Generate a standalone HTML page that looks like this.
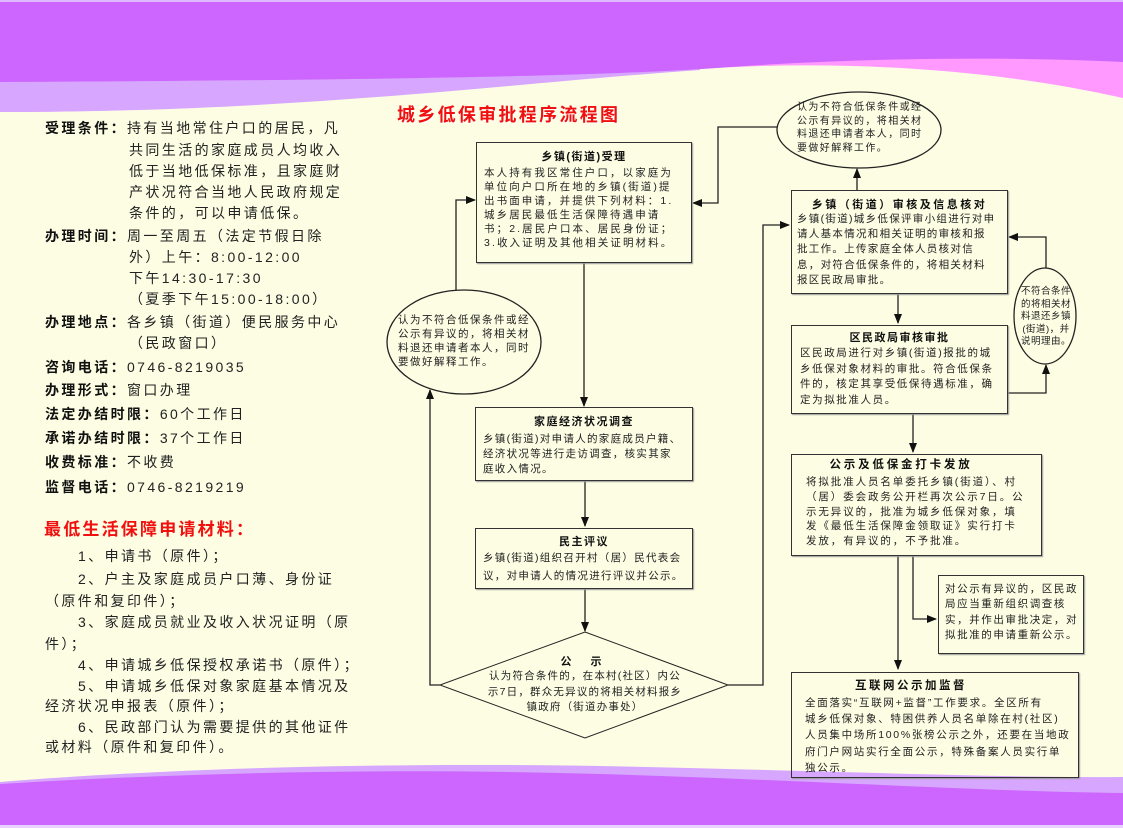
<!DOCTYPE html>
<html><head><meta charset="utf-8">
<style>
*{margin:0;padding:0;box-sizing:border-box}
body{width:1123px;height:828px;overflow:hidden;position:relative;background:#fdfde4;font-family:"Liberation Sans","Noto Sans CJK SC",sans-serif;color:#222}
svg.bg{position:absolute;left:0;top:0}
.l{position:absolute;white-space:nowrap;font-size:14px;letter-spacing:2.4px;line-height:20px;color:#222}
.l b{font-weight:bold;color:#111}
.box{position:absolute;border:1.5px solid #333;box-shadow:1px 1px 1px #999}
.tt{position:absolute;white-space:nowrap;font-weight:bold;font-size:11px;letter-spacing:1.5px;color:#111;text-align:center;line-height:14px}
.tx{position:absolute;white-space:nowrap;font-size:10.5px;letter-spacing:1.8px;color:#222}
</style></head><body>
<svg class="bg" width="1123" height="828">
<path d="M0,0H1123V98C1000,70 850,60 716,68C560,78 300,112 0,112Z" fill="#ff99ff"/>
<path d="M0,0H700V70C500,84 300,112 0,112Z" fill="#d7a6ff"/>
<path d="M0,0H1123V62C1000,56 850,58 716,68C600,76 400,80 0,82Z" fill="#cc66ff"/>
<path d="M0,782C150,770 350,762 600,766C800,770 1000,778 1123,777V828H0Z" fill="#d7a6ff"/>
<path d="M0,784C200,772 400,768 600,774C800,780 1000,792 1123,793V828H0Z" fill="#cc66ff"/>
<rect x="0" y="825" width="1123" height="3" fill="#e8d0ff"/>
<rect x="0" y="0" width="1123" height="2" fill="#e0b8ff"/>
</svg>

<!-- left column -->
<div class="l" style="left:45px;top:118px"><b>受理条件：</b>持有当地常住户口的居民，凡</div>
<div class="l" style="left:129px;top:140px">共同生活的家庭成员人均收入</div>
<div class="l" style="left:129px;top:161px">低于当地低保标准，且家庭财</div>
<div class="l" style="left:129px;top:182px">产状况符合当地人民政府规定</div>
<div class="l" style="left:129px;top:203px">条件的，可以申请低保。</div>
<div class="l" style="left:45px;top:226px"><b>办理时间：</b>周一至周五（法定节假日除</div>
<div class="l" style="left:129px;top:247px">外）上午：8:00-12:00</div>
<div class="l" style="left:129px;top:268px">下午14:30-17:30</div>
<div class="l" style="left:129px;top:289px">（夏季下午15:00-18:00）</div>
<div class="l" style="left:45px;top:312px"><b>办理地点：</b>各乡镇（街道）便民服务中心</div>
<div class="l" style="left:129px;top:333px">（民政窗口）</div>
<div class="l" style="left:45px;top:357px"><b>咨询电话：</b>0746-8219035</div>
<div class="l" style="left:45px;top:380px"><b>办理形式：</b>窗口办理</div>
<div class="l" style="left:45px;top:404px"><b>法定办结时限：</b>60个工作日</div>
<div class="l" style="left:45px;top:428px"><b>承诺办结时限：</b>37个工作日</div>
<div class="l" style="left:45px;top:452px"><b>收费标准：</b>不收费</div>
<div class="l" style="left:45px;top:477px"><b>监督电话：</b>0746-8219219</div>

<div class="l" style="left:44px;top:519px;font-size:17px;font-weight:bold;color:#f01010;letter-spacing:2.2px;line-height:22px">最低生活保障申请材料：</div>
<div class="l" style="left:78px;top:546px">1、申请书（原件）；</div>
<div class="l" style="left:78px;top:569px">2、户主及家庭成员户口薄、身份证</div>
<div class="l" style="left:45px;top:591px">（原件和复印件）；</div>
<div class="l" style="left:78px;top:612px">3、家庭成员就业及收入状况证明（原</div>
<div class="l" style="left:45px;top:634px">件）；</div>
<div class="l" style="left:78px;top:655px">4、申请城乡低保授权承诺书（原件）；</div>
<div class="l" style="left:78px;top:676px">5、申请城乡低保对象家庭基本情况及</div>
<div class="l" style="left:45px;top:696px">经济状况申报表（原件）；</div>
<div class="l" style="left:78px;top:717px">6、民政部门认为需要提供的其他证件</div>
<div class="l" style="left:45px;top:737px">或材料（原件和复印件）。</div>

<!-- title -->
<div class="l" style="left:397px;top:103px;font-size:18px;font-weight:bold;color:#f01010;letter-spacing:2.3px;line-height:24px;text-shadow:1px 1px 0 #fff">城乡低保审批程序流程图</div>

<!-- connectors -->
<svg class="bg" width="1123" height="828">
<defs><marker id="a" markerWidth="10" markerHeight="10" refX="9" refY="5" orient="auto" markerUnits="userSpaceOnUse"><path d="M0,1L10,5L0,9Z" fill="#111"/></marker></defs>
<g fill="none" stroke="#222" stroke-width="1.3">
<ellipse cx="464" cy="342" rx="77" ry="52" fill="#fdfde4"/>
<ellipse cx="859" cy="130" rx="82" ry="38" fill="#fdfde4"/>
<ellipse cx="1045" cy="316" rx="31" ry="48" fill="#fdfde4"/>
<path d="M585,632L728,685L585,738L440,685Z" stroke-width="1" fill="#fdfde4"/>
<polyline points="456,290 456,200 475,200" marker-end="url(#a)"/>
<polyline points="440,685 430,685 430,390" marker-end="url(#a)"/>
<polyline points="584,263 584,406" marker-end="url(#a)"/>
<polyline points="585,481 585,526" marker-end="url(#a)"/>
<polyline points="585,589 585,631" marker-end="url(#a)"/>
<polyline points="728,685 763,685 763,225 789,225" marker-end="url(#a)"/>
<polyline points="857,190 857,169" marker-end="url(#a)"/>
<polyline points="777,127 718,127 718,203 693,203" marker-end="url(#a)"/>
<polyline points="898,294 898,323" marker-end="url(#a)"/>
<polyline points="1008,393 1046,393 1046,365" marker-end="url(#a)"/>
<polyline points="1046,268 1046,237 1009,237" marker-end="url(#a)"/>
<polyline points="913,414 913,452" marker-end="url(#a)"/>
<polyline points="898,556 898,669" marker-end="url(#a)"/>
<polyline points="913,556 913,619 936,619" marker-end="url(#a)"/>
</g>
</svg>

<!-- boxes -->
<div class="box" style="left:476px;top:142px;width:216px;height:121px"></div>
<div class="tt" style="left:476px;top:150px;width:216px">乡镇(街道)受理</div>
<div class="tx" style="left:484px;top:166px;line-height:14px;letter-spacing:2.1px">本人持有我区常住户口，以家庭为<br>单位向户口所在地的乡镇(街道)提<br>出书面申请，并提供下列材料：1.<br>城乡居民最低生活保障待遇申请<br>书；2.居民户口本、居民身份证；<br>3.收入证明及其他相关证明材料。</div>

<div class="tx" style="left:398px;top:313px;line-height:14px;letter-spacing:1.5px">认为不符合低保条件或经<br>公示有异议的，将相关材<br>料退还申请者本人，同时<br>要做好解释工作。</div>

<div class="tx" style="left:797px;top:101px;line-height:13.5px;font-size:10px;letter-spacing:1.4px">认为不符合低保条件或经<br>公示有异议的，将相关材<br>料退还申请者本人，同时<br>要做好解释工作。</div>

<div class="box" style="left:475px;top:407px;width:218px;height:74px"></div>
<div class="tt" style="left:475px;top:415px;width:218px">家庭经济状况调查</div>
<div class="tx" style="left:483px;top:432px;line-height:15px;letter-spacing:1.3px">乡镇(街道)对申请人的家庭成员户籍、<br>经济状况等进行走访调查，核实其家<br>庭收入情况。</div>

<div class="box" style="left:475px;top:528px;width:218px;height:61px"></div>
<div class="tt" style="left:475px;top:535px;width:218px">民主评议</div>
<div class="tx" style="left:483px;top:549px;line-height:18px;letter-spacing:1.3px">乡镇(街道)组织召开村（居）民代表会<br>议，对申请人的情况进行评议并公示。</div>

<div class="tt" style="left:485px;top:655px;width:200px;letter-spacing:8px">公 示</div>
<div class="tx" style="left:485px;top:669px;width:200px;text-align:center;line-height:15.5px;letter-spacing:1.2px">认为符合条件的，在本村(社区）内公<br>示7日，群众无异议的将相关材料报乡<br>镇政府（街道办事处）</div>

<div class="box" style="left:791px;top:190px;width:217px;height:104px"></div>
<div class="tt" style="left:791px;top:198px;width:217px;letter-spacing:2.5px">乡镇（街道）审核及信息核对</div>
<div class="tx" style="left:797px;top:212px;line-height:15.2px;letter-spacing:1.3px">乡镇(街道)城乡低保评审小组进行对申<br>请人基本情况和相关证明的审核和报<br>批工作。上传家庭全体人员核对信<br>息，对符合低保条件的，将相关材料<br>报区民政局审批。</div>

<div class="box" style="left:791px;top:325px;width:217px;height:89px"></div>
<div class="tt" style="left:791px;top:331px;width:217px">区民政局审核审批</div>
<div class="tx" style="left:800px;top:346px;line-height:15.6px;letter-spacing:1.6px">区民政局进行对乡镇(街道)报批的城<br>乡低保对象材料的审批。符合低保条<br>件的，核定其享受低保待遇标准，确<br>定为拟批准人员。</div>

<div class="tx" style="left:1010px;top:286px;width:72px;text-align:center;font-size:9.5px;line-height:12.5px;letter-spacing:0.5px">不符合条件<br>的将相关材<br>料退还乡镇<br>(街道)，并<br>说明理由。</div>

<div class="box" style="left:791px;top:454px;width:251px;height:102px"></div>
<div class="tt" style="left:801px;top:458px;width:200px;letter-spacing:2.8px;font-size:11.5px">公示及低保金打卡发放</div>
<div class="tx" style="left:806px;top:475px;line-height:14.8px;letter-spacing:1.9px">将拟批准人员名单委托乡镇(街道）、村<br>（居）委会政务公开栏再次公示7日。公<br>示无异议的，批准为城乡低保对象，填<br>发《最低生活保障金领取证》实行打卡<br>发放，有异议的，不予批准。</div>

<div class="box" style="left:938px;top:575px;width:146px;height:79px"></div>
<div class="tx" style="left:945px;top:582px;line-height:15.3px;letter-spacing:1.6px">对公示有异议的，区民政<br>局应当重新组织调查核<br>实，并作出审批决定，对<br>拟批准的申请重新公示。</div>

<div class="box" style="left:791px;top:672px;width:288px;height:106px"></div>
<div class="tt" style="left:801px;top:679px;width:220px;letter-spacing:2.5px;font-size:11.5px">互联网公示加监督</div>
<div class="tx" style="left:805px;top:695px;line-height:16.2px;letter-spacing:1.7px">全面落实“互联网+监督”工作要求。全区所有<br>城乡低保对象、特困供养人员名单除在村(社区)<br>人员集中场所100%张榜公示之外，还要在当地政<br>府门户网站实行全面公示，特殊备案人员实行单<br>独公示。</div>
</body></html>
